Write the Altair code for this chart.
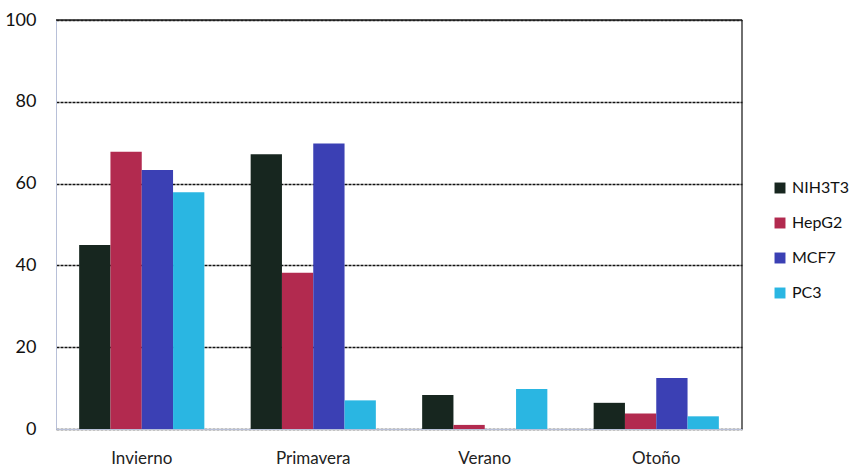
import altair as alt
import pandas as pd

seasons = ["Invierno", "Primavera", "Verano", "Otoño"]
cells = ["NIH3T3", "HepG2", "MCF7", "PC3"]
nih3t3 = [45, 67.2, 8.3, 6.4]
hepg2 = [67.8, 38.2, 1.0, 3.8]
mcf7 = [63.3, 69.8, 0, 12.5]
pc3 = [57.9, 7.0, 9.8, 3.1]
colors = ["#17261f", "#b22a4f", "#3b40b4", "#2ab6e2"]

rows = []
for series, name in zip([nih3t3, hepg2, mcf7, pc3], cells):
    for s, v in zip(seasons, series):
        rows.append({"season": s, "cell": name, "value": v})
df = pd.DataFrame(rows)

font = "Lato"
W, H = 686, 409

bars = alt.Chart(df).mark_bar().encode(
    x=alt.X("season:N", sort=seasons, title=None,
            scale=alt.Scale(paddingInner=0.27, paddingOuter=0.135),
            axis=alt.Axis(labelAngle=0, labelFontSize=17, labelPadding=21, tickSize=0,
                          labelFont=font, labelColor="#222", domainColor="#b8c0d8",
                          grid=False)),
    xOffset=alt.XOffset("cell:N", sort=cells),
    y=alt.Y("value:Q", title=None,
            scale=alt.Scale(domain=[0, 100], nice=False),
            axis=alt.Axis(values=[0, 20, 40, 60, 80, 100], labelFontSize=18, labelPadding=20,
                          tickSize=0, labelFont=font, labelColor="#111",
                          domainColor="#b8c0d8", gridColor="#111", gridDash=[3, 1],
                          gridWidth=1.3)),
    color=alt.Color("cell:N", sort=cells,
                    scale=alt.Scale(domain=cells, range=colors),
                    legend=alt.Legend(title=None, orient="none", legendX=716, legendY=160,
                                      labelFontSize=16, labelFont=font, labelColor="#111",
                                      symbolType="square", symbolSize=120, rowPadding=19,
                                      symbolStrokeWidth=0)),
)

right_border = alt.Chart().mark_rule(color="#222", strokeWidth=1.3).encode(
    x=alt.value(W), y=alt.value(0), y2=alt.value(H))
top_border = alt.Chart().mark_rule(color="#222", strokeWidth=1.5).encode(
    x=alt.value(0), x2=alt.value(W), y=alt.value(0))

chart = alt.layer(bars, right_border, top_border).properties(
    width=W, height=H,
    background="white",
    autosize=alt.AutoSizeParams(type="none"),
    padding={"left": 56, "top": 20, "right": 112, "bottom": 39},
).configure_view(stroke=None)

chart.save("out.html", embed_options={"renderer": "svg", "actions": False})
